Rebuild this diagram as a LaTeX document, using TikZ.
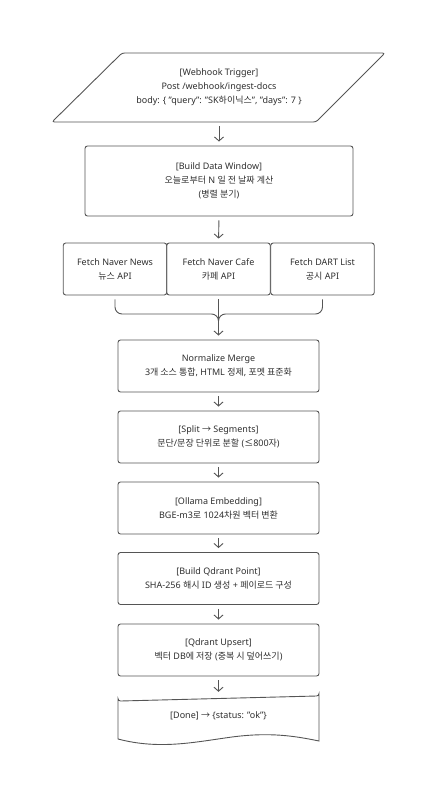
\documentclass[tikz,border=0pt]{standalone}
\usepackage{fontspec}
\setmainfont{Noto Sans}
\newfontfamily\kr{Noto Sans CJK KR}
\usepackage{tikz}
\usetikzlibrary{arrows.meta}

\definecolor{edgegray}{HTML}{555555}
\definecolor{textgray}{HTML}{2E2E2E}

\begin{document}
\begin{tikzpicture}[
  x=1pt,
  y=-1pt,
  every node/.style={text=textgray, font=\fontsize{9}{14}\selectfont, align=center},
  stepbox/.style={draw=edgegray, line width=0.9pt, rounded corners=2.5pt, inner sep=0pt},
  mainbox/.style={stepbox, minimum width=201pt, minimum height=52pt},
  fetchbox/.style={stepbox, minimum width=103.5pt, minimum height=52pt},
  shapeline/.style={draw=edgegray, line width=0.9pt, rounded corners=2.5pt},
  link/.style={draw=edgegray, line width=0.9pt},
  flow/.style={link, -{Straight Barb[length=4pt, width=9pt]}, shorten <=4pt, shorten >=4pt}
]
  \useasboundingbox (0,0) rectangle (438,800);

  % trigger (parallelogram drawn by hand)
  \draw[shapeline] (122,53) -- (385,53) -- (316,122) -- (52,122) -- cycle;
  \node[minimum width=200pt, minimum height=69pt, inner sep=0pt] (trigger) at (219,87.5)
    {[Webhook Trigger]\\Post /webhook/ingest-docs\\body: \{ "query": "SK{\kr 하이닉스}", "days": 7 \}};

  \node[stepbox, minimum width=268pt, minimum height=70pt] (window) at (219,181)
    {[Build Data Window]\\{\kr 오늘로부터} N {\kr 일 전 날짜 계산}\\({\kr 병렬 분기})};

  % parallel fetches
  \node[fetchbox] (news) at (115,269) {Fetch Naver News\\{\kr 뉴스} API};
  \node[fetchbox] (cafe) at (218.5,269) {Fetch Naver Cafe\\{\kr 카페} API};
  \node[fetchbox] (dart) at (322.5,269) {Fetch DART List\\{\kr 공시} API};

  \node[mainbox] (normalize) at (218.5,366) {Normalize Merge\\3{\kr 개 소스 통합}, HTML {\kr 정제}, {\kr 포멧 표준화}};
  \node[mainbox] (split) at (218.5,437) {[Split {\kr →} Segments]\\{\kr 문단}/{\kr 문장 단위로 분할} ({\kr ≤}800{\kr 자})};
  \node[mainbox] (embed) at (218.5,508) {[Ollama Embedding]\\BGE-m3{\kr 로} 1024{\kr 차원 벡터 변환}};
  \node[mainbox] (point) at (218.5,578.5) {[Build Qdrant Point]\\SHA-256 {\kr 해시} ID {\kr 생성} + {\kr 페이로드 구성}};
  \node[mainbox] (upsert) at (218.5,650) {[Qdrant Upsert]\\{\kr 벡터} DB{\kr 에 저장} ({\kr 중복 시 덮어쓰기})};

  % done (document shape)
  \draw[link] (118,739) -- (118,698.5) arc[start angle=180, end angle=90, radius=2.5]
    -- (316.5,696) arc[start angle=90, end angle=0, radius=2.5] -- (319,741)
    .. controls (295,736) and (270,732) .. (232,737)
    .. controls (195,742) and (160,750) .. (118,739) -- cycle;
  \node[minimum width=201pt, minimum height=40pt, inner sep=0pt] (done) at (218.5,716)
    {[Done] {\kr →} \{status: "ok"\}};

  % connectors
  \draw[flow] (trigger.south) -- (window.north);
  \draw[flow] (window.south) -- (cafe.north);
  \coordinate (join) at (218.5,322);
  \draw[link, rounded corners=7pt, shorten <=4pt] (news.south) |- (218.5,314) -- (join);
  \draw[link, rounded corners=7pt, shorten <=4pt] (dart.south) |- (218.5,314) -- (join);
  \draw[flow] (cafe.south) -- (normalize.north);
  \draw[flow] (normalize) -- (split);
  \draw[flow] (split) -- (embed);
  \draw[flow] (embed) -- (point);
  \draw[flow] (point) -- (upsert);
  \draw[flow] (upsert.south) -- (done.north);
\end{tikzpicture}
\end{document}
